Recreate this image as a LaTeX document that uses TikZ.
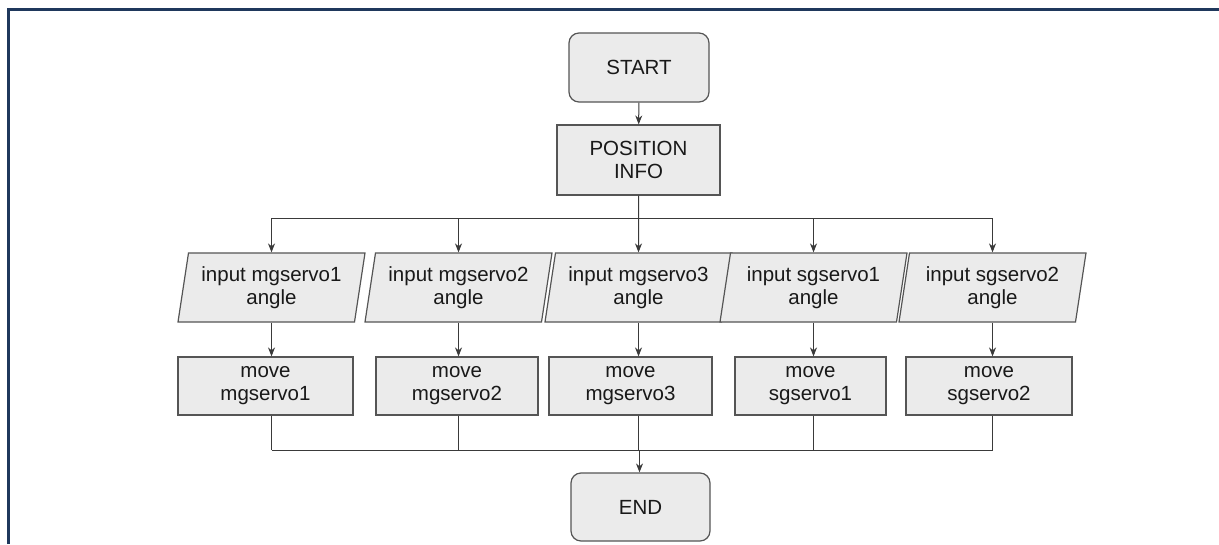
\documentclass[tikz,border=0pt]{standalone}
\usepackage{fontspec}
\setmainfont{Liberation Sans}
\usetikzlibrary{shapes.geometric,arrows.meta}
\definecolor{boxfill}{HTML}{EBEBEB}
\definecolor{boxline}{HTML}{555555}
\definecolor{connc}{HTML}{3A3A3A}
\definecolor{framec}{HTML}{1F385C}
\begin{document}
\begin{tikzpicture}[x=1pt,y=-1pt,
  base/.style={draw=boxline, fill=boxfill, line width=1.2pt, text=black!90,
    font=\fontsize{20.5}{23}\selectfont, align=center, inner sep=0pt},
  term/.style={base, rounded corners=10pt, minimum width=140pt, minimum height=69pt},
  procbox/.style={base, minimum height=58pt},
  iobox/.style={base, trapezium, trapezium left angle=76, trapezium right angle=104,
    trapezium stretches body, minimum width=187pt, minimum height=69pt},
  conn/.style={draw=connc, line width=1pt},
  arr/.style={conn, -{Stealth[length=9pt,width=7pt]}}]
\path[use as bounding box] (0,0) rectangle (1219,544);
\draw[framec, line width=3pt] (8.5,544) -- (8.5,9.5) -- (1219,9.5);

\node[term] (start) at (639,67.5) {START};
\node[base, minimum width=163pt, minimum height=70pt] (pos) at (638.5,160) {POSITION\\INFO};

\node[iobox] (p1) at (271.5,287.5) {input mgservo1\\angle};
\node[iobox] (p2) at (458.5,287.5) {input mgservo2\\angle};
\node[iobox] (p3) at (638.5,287.5) {input mgservo3\\angle};
\node[iobox] (p4) at (813.5,287.5) {input sgservo1\\angle};
\node[iobox] (p5) at (992.5,287.5) {input sgservo2\\angle};

\node[procbox, minimum width=175pt] (m1) at (265.5,386) {move\\mgservo1};
\node[procbox, minimum width=162pt] (m2) at (457,386) {move\\mgservo2};
\node[procbox, minimum width=163pt] (m3) at (630.5,386) {move\\mgservo3};
\node[procbox, minimum width=151pt] (m4) at (810.5,386) {move\\sgservo1};
\node[procbox, minimum width=166pt] (m5) at (989,386) {move\\sgservo2};

\node[term, minimum width=139pt, minimum height=68pt] (end) at (640.5,507) {END};

\coordinate (bus) at (638.5,218);
\coordinate (jn) at (639.5,450);

\draw[arr] (start) -- (pos);
\draw[conn] (p1.north |- bus) -- (p5.north |- bus);
\foreach \i in {1,2,4,5} {
  \draw[arr] (p\i.north |- bus) -- (p\i.north);
}
\draw[arr] (pos.south) -- (p3.north);
\foreach \i in {1,...,5} {
  \draw[arr] (p\i.south) -- (p\i.south |- m\i.north);
  \draw[conn] (p\i.south |- m\i.south) -- (p\i.south |- jn);
}
\draw[conn] (p1.south |- jn) -- (p5.south |- jn);
\draw[arr] (jn) -- (jn |- end.north);
\end{tikzpicture}
\end{document}
